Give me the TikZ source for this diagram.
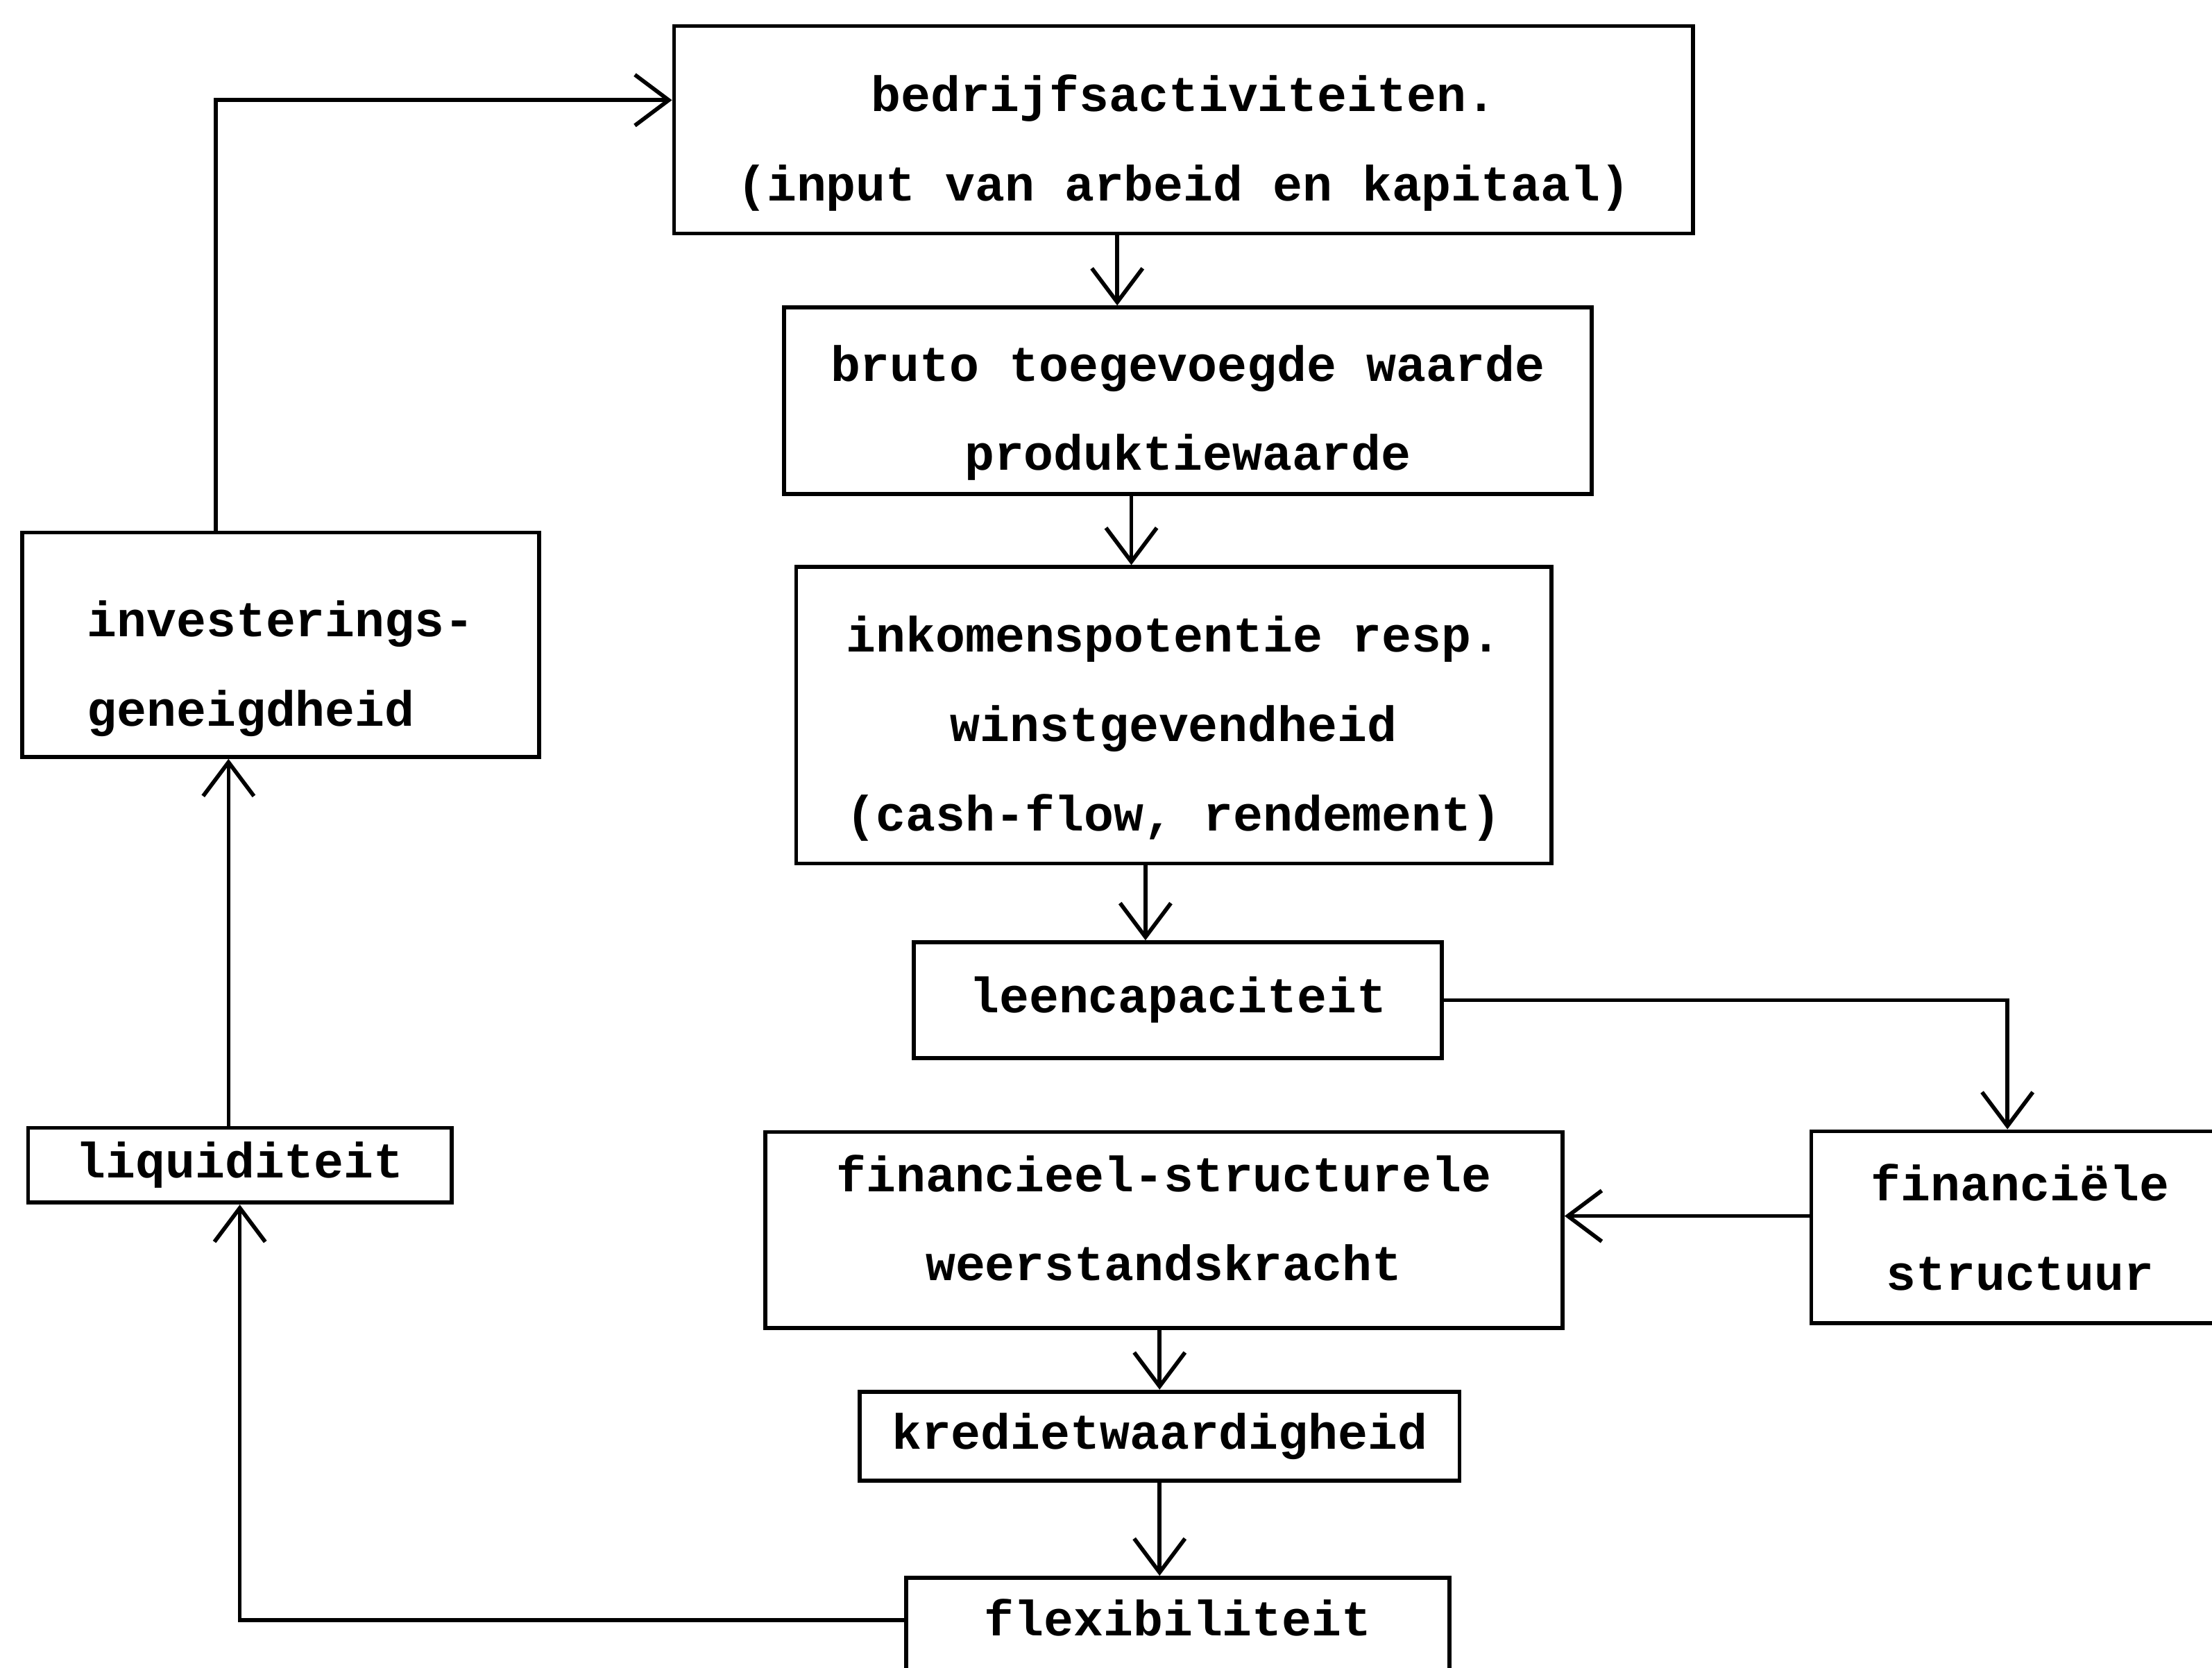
\documentclass[tikz,border=0pt]{standalone}
\usepackage{fontspec}
\setmonofont{Liberation Mono}
\usetikzlibrary{arrows.meta}
\newcommand{\downstrut}[1]{\rule{0pt}{#1}}

\begin{document}
\begin{tikzpicture}[
  x=0.01cm, y=-0.01cm,
  box/.style = {shape=rectangle, draw, line width=0.8pt, align=center, inner sep=0pt,
    font=\ttfamily\bfseries\fontsize{10pt}{18pt}\selectfont},
  textup/.style = {execute at end node={\rule[-#1]{0pt}{#1}}},
  arr/.style = {line width=0.8pt, -{Straight Barb[length=0.24cm, width=0.36cm, line width=0.8pt]}}
]
  \clip (0,0) rectangle (1568,1182);
  \fill[white] (0,0) rectangle (1568,1182);
  \node[box, minimum width=7.22cm, minimum height=1.47cm] (bedrijf) at (839,92)
    {\downstrut{12.6pt}bedrijfsactiviteiten.\\(input van arbeid en kapitaal)};
  \node[box, minimum width=5.72cm, minimum height=1.32cm] (bruto) at (842,284)
    {\downstrut{12.2pt}bruto toegevoegde waarde\\produktiewaarde};
  \node[box, minimum width=5.35cm, minimum height=2.10cm] (inkomen) at (832,507)
    {\downstrut{12.6pt}inkomenspotentie resp.\\winstgevendheid\\(cash-flow, rendement)};
  \node[box, minimum width=3.74cm, minimum height=0.82cm] (leen) at (835,709)
    {leencapaciteit};
  \node[box, textup=5pt, minimum width=5.65cm, minimum height=1.39cm] (weerstand) at (825,872)
    {financieel-structurele\\weerstandskracht};
  \node[box, minimum width=2.96cm, minimum height=1.36cm] (structuur) at (1432,870)
    {financiële\\structuur};
  \node[box, minimum width=4.25cm, minimum height=0.63cm] (krediet) at (822,1018)
    {kredietwaardigheid};
  \node[box, textup=4pt, minimum width=3.85cm, minimum height=0.70cm, anchor=north] (flex) at (835,1117)
    {flexibiliteit};
  \node[box, align=left, minimum width=3.66cm, minimum height=1.59cm] (invest) at (199,457)
    {\downstrut{17pt}investerings-\\geneigdheid};
  \node[box, minimum width=3.0cm, minimum height=0.53cm] (liquid) at (170,826)
    {liquiditeit};

  \draw[arr] ([xshift=-0.46cm]invest.north) |- ([yshift=0.21cm]bedrijf.west);
  \draw[arr] ([xshift=-0.47cm]bedrijf.south) -- ([xshift=-0.47cm]bedrijf.south |- bruto.north);
  \draw[arr] ([xshift=-0.40cm]bruto.south) -- ([xshift=-0.40cm]bruto.south |- inkomen.north);
  \draw[arr] ([xshift=-0.20cm]inkomen.south) -- ([xshift=-0.20cm]inkomen.south |- leen.north);
  \draw[arr] (leen.east) -| ([xshift=-0.09cm]structuur.north);
  \draw[arr] ([yshift=0.08cm]structuur.west) -- ([yshift=0.08cm]structuur.west -| weerstand.east);
  \draw[arr] (krediet.north |- weerstand.south) -- (krediet.north);
  \draw[arr] (krediet.south) -- (krediet.south |- flex.north);
  \draw[arr] ([yshift=0.05cm]flex.west) -| (liquid.south);
  \draw[arr] ([xshift=-0.08cm]liquid.north) -- ([xshift=-0.08cm]liquid.north |- invest.south);
\end{tikzpicture}
\end{document}
